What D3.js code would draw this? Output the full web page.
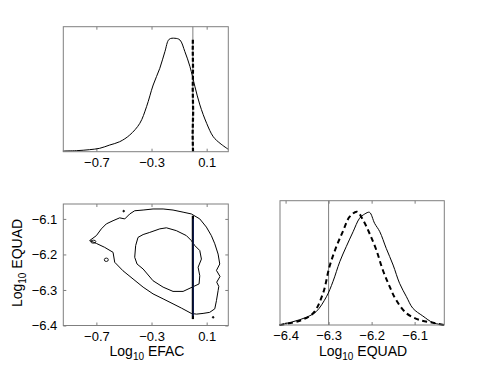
<!DOCTYPE html>
<html><head><meta charset="utf-8">
<script src="https://cdn.jsdelivr.net/npm/d3@7"></script>
<style>
body{margin:0;background:#fff}
svg{display:block}
text{font-family:"Liberation Sans",Arial,Helvetica,sans-serif;fill:#000}
</style>
</head><body>
<svg id="c" width="491" height="366"></svg>
<script>
// ---- Data ----
const efacTicks = [-0.7, -0.3, 0.1];
const equadTicks = [-6.4, -6.3, -6.2, -6.1];

// marginal of log10 EFAC (solid)
const efacX = [-0.943,-0.845,-0.749,-0.676,-0.603,-0.531,-0.458,-0.385,-0.336,-0.288,-0.24,-0.203,-0.172,-0.13,-0.094,-0.058,-0.021,0.015,0.051,0.1,0.148,0.197,0.257];
const efacDensity = [0.006,0.009,0.018,0.03,0.059,0.088,0.147,0.25,0.397,0.588,0.735,0.882,0.991,1.0,0.985,0.882,0.75,0.573,0.412,0.25,0.132,0.074,0.021];
// fixed-EFAC run (dashed spike at 0)
const efacFixedX = [0.001,-0.002,0.002,-0.001,0.001,-0.001,0.0];
const efacFixedDensity = [0,0.15,0.35,0.55,0.75,0.9,0.993];
const efacTrue = 0;

// marginal of log10 EQUAD
const equadX = [-6.414,-6.383,-6.352,-6.329,-6.305,-6.29,-6.274,-6.259,-6.243,-6.228,-6.216,-6.205,-6.193,-6.181,-6.166,-6.15,-6.135,-6.119,-6.104,-6.081,-6.057,-6.032];
const equadDensity = [0,0.029,0.068,0.118,0.251,0.384,0.562,0.695,0.828,0.947,0.985,1.0,0.902,0.828,0.68,0.532,0.37,0.251,0.148,0.08,0.02,0];
const equadFixedX = [-6.414,-6.367,-6.336,-6.313,-6.298,-6.282,-6.267,-6.251,-6.234,-6.22,-6.205,-6.189,-6.174,-6.158,-6.143,-6.119,-6.088,-6.057,-6.032];
const equadFixedDensity = [0,0.038,0.104,0.281,0.517,0.695,0.828,0.961,1.005,0.932,0.814,0.665,0.488,0.34,0.222,0.104,0.044,0.02,0];
const equadTrue = -6.3;

// 2D credible contours (EFAC, EQUAD)
const outerEfac = [-0.749,-0.700,-0.664,-0.628,-0.579,-0.531,-0.494,-0.458,-0.422,-0.361,-0.289,-0.216,-0.144,-0.071,-0.011,0.050,0.098,0.134,0.159,0.183,0.195,0.171,0.197,0.173,0.188,0.183,0.171,0.159,0.122,0.074,0.026,-0.011,-0.083,-0.144,-0.216,-0.289,-0.361,-0.434,-0.507,-0.567,-0.579,-0.640,-0.700,-0.749];
const outerEquad = [-6.161,-6.147,-6.128,-6.114,-6.105,-6.097,-6.100,-6.086,-6.077,-6.075,-6.072,-6.072,-6.075,-6.081,-6.086,-6.100,-6.123,-6.147,-6.170,-6.199,-6.227,-6.245,-6.262,-6.278,-6.290,-6.302,-6.330,-6.353,-6.363,-6.366,-6.368,-6.366,-6.351,-6.339,-6.325,-6.311,-6.292,-6.269,-6.246,-6.222,-6.194,-6.180,-6.169,-6.161];
const innerEfac = [-0.415,-0.398,-0.361,-0.313,-0.240,-0.192,-0.120,-0.047,-0.011,0.014,0.050,0.062,0.038,0.050,0.045,0.001,-0.071,-0.144,-0.216,-0.289,-0.361,-0.405,-0.422,-0.415];
const innerEquad = [-6.175,-6.152,-6.144,-6.138,-6.128,-6.125,-6.133,-6.147,-6.161,-6.175,-6.189,-6.213,-6.236,-6.260,-6.283,-6.291,-6.304,-6.304,-6.292,-6.274,-6.241,-6.227,-6.208,-6.175];
const islandEfac = [-0.722,-0.628,-0.502,0.147];
const islandEquad = [-6.164,-6.215,-6.078,-6.377];
const fixedEquadRange = [-6.382,-6.091];

// ---- Drawing ----
const svg = d3.select("#c");
const frameColor = "#7f7f7f";

const pTop = {x0:63.3,x1:228.3,y0:26.7,y1:151.7};
const pBL  = {x0:63.3,x1:228.3,y0:204,y1:325.5};
const pBR  = {x0:280,x1:444.3,y0:200.7,y1:325};

const xEfacTop = d3.scaleLinear().domain([-0.94,0.257]).range([pTop.x0,pTop.x1]);
const yTop = d3.scaleLinear().domain([0,1.102]).range([pTop.y1,pTop.y0]);
const xEfacBL = d3.scaleLinear().domain([-0.94,0.257]).range([pBL.x0,pBL.x1]);
const yEquadBL = d3.scaleLinear().domain([-6.4,-6.058]).range([pBL.y1,pBL.y0]);
const xEquadBR = d3.scaleLinear().domain([-6.413,-6.031]).range([pBR.x0,pBR.x1]);
const yBR = d3.scaleLinear().domain([0,1.103]).range([pBR.y1,pBR.y0]);

function frame(p){
  svg.append("rect").attr("x",p.x0).attr("y",p.y0).attr("width",p.x1-p.x0).attr("height",p.y1-p.y0)
    .attr("fill","none").attr("stroke",frameColor).attr("stroke-width",1);
}
function fmt(d){ return d3.format(".1f")(d).replace("-","\u2212").replace("\u2212","\u2212"); }
function xAxes(p, scale, ticks){
  const gb = svg.append("g").attr("transform",`translate(0,${p.y1})`)
    .call(d3.axisBottom(scale).tickValues(ticks).tickSizeInner(-3).tickSizeOuter(0).tickPadding(6).tickFormat(fmt));
  gb.select(".domain").remove();
  gb.selectAll("line").attr("stroke",frameColor);
  gb.selectAll("text").attr("font-size",13).attr("fill","#000").attr("font-family","Liberation Sans, Arial, sans-serif");
  const gt = svg.append("g").attr("transform",`translate(0,${p.y0})`)
    .call(d3.axisTop(scale).tickValues(ticks).tickSizeInner(-3).tickSizeOuter(0).tickFormat(""));
  gt.select(".domain").remove();
  gt.selectAll("line").attr("stroke",frameColor);
}
function yAxes(p, scale, ticks){
  const gl = svg.append("g").attr("transform",`translate(${p.x0},0)`)
    .call(d3.axisLeft(scale).tickValues(ticks).tickSizeInner(-3).tickSizeOuter(0).tickPadding(6).tickFormat(fmt));
  gl.select(".domain").remove();
  gl.selectAll("line").attr("stroke",frameColor);
  gl.selectAll("text").attr("font-size",13).attr("fill","#000").attr("font-family","Liberation Sans, Arial, sans-serif");
  const gr = svg.append("g").attr("transform",`translate(${p.x1},0)`)
    .call(d3.axisRight(scale).tickValues(ticks).tickSizeInner(-3).tickSizeOuter(0).tickFormat(""));
  gr.select(".domain").remove();
  gr.selectAll("line").attr("stroke",frameColor);
}

// Top panel
xAxes(pTop, xEfacTop, efacTicks);
svg.append("line").attr("x1",xEfacTop(efacTrue)).attr("x2",xEfacTop(efacTrue)).attr("y1",pTop.y0).attr("y2",pTop.y1)
  .attr("stroke",frameColor).attr("stroke-width",1);
const lineTop = d3.line().x(d=>xEfacTop(d[0])).y(d=>yTop(d[1])).curve(d3.curveCatmullRom);
svg.append("path").datum(d3.zip(efacX,efacDensity)).attr("d",lineTop).attr("fill","none").attr("stroke","#000").attr("stroke-width",1);
svg.append("path").datum(d3.zip(efacFixedX,efacFixedDensity)).attr("d",d3.line().x(d=>xEfacTop(d[0])).y(d=>yTop(d[1])))
  .attr("fill","none").attr("stroke","#000").attr("stroke-width",2.2).attr("stroke-dasharray","4,2");
frame(pTop);

// Bottom-left panel
xAxes(pBL, xEfacBL, efacTicks);
yAxes(pBL, yEquadBL, equadTicks);
const lineBL = d3.line().x(d=>xEfacBL(d[0])).y(d=>yEquadBL(d[1]));
svg.append("path").datum(d3.zip(outerEfac,outerEquad)).attr("d",lineBL).attr("fill","none").attr("stroke","#000").attr("stroke-width",1);
svg.append("path").datum(d3.zip(innerEfac,innerEquad)).attr("d",lineBL).attr("fill","none").attr("stroke","#000").attr("stroke-width",1);
svg.selectAll(".island").data(d3.zip(islandEfac,islandEquad)).join("ellipse").attr("class","island")
  .attr("cx",d=>xEfacBL(d[0])).attr("cy",d=>yEquadBL(d[1]))
  .attr("rx",(d,i)=>i===1?2:(i===0?2.5:0.8)).attr("ry",(d,i)=>i===1?1.7:(i===0?1.5:0.8))
  .attr("fill",(d,i)=>i>=2?"#000":"none").attr("stroke","#000").attr("stroke-width",0.9);
svg.append("line").attr("x1",xEfacBL(efacTrue)).attr("x2",xEfacBL(efacTrue))
  .attr("y1",yEquadBL(fixedEquadRange[0])).attr("y2",yEquadBL(fixedEquadRange[1]))
  .attr("stroke","#000").attr("stroke-width",2.2);
svg.append("line").attr("x1",xEfacBL(efacTrue)+0.3).attr("x2",xEfacBL(efacTrue)+0.3)
  .attr("y1",yEquadBL(fixedEquadRange[0])-3).attr("y2",yEquadBL(fixedEquadRange[1])+3)
  .attr("stroke","#1a2f8a").attr("stroke-width",0.8);
frame(pBL);

// Bottom-right panel
xAxes(pBR, xEquadBR, equadTicks);
svg.append("line").attr("x1",xEquadBR(equadTrue)).attr("x2",xEquadBR(equadTrue)).attr("y1",pBR.y0).attr("y2",pBR.y1)
  .attr("stroke",frameColor).attr("stroke-width",1);
const lineBR = d3.line().x(d=>xEquadBR(d[0])).y(d=>yBR(d[1])).curve(d3.curveCatmullRom);
svg.append("path").datum(d3.zip(equadX,equadDensity)).attr("d",lineBR).attr("fill","none").attr("stroke","#000").attr("stroke-width",1);
svg.append("path").datum(d3.zip(equadFixedX,equadFixedDensity)).attr("d",lineBR).attr("fill","none").attr("stroke","#000").attr("stroke-width",2).attr("stroke-dasharray","5,3.5");
frame(pBR);

// Axis titles
function logLabel(g, name){
  const t = g.append("text").attr("font-size",14).attr("text-anchor","middle");
  t.append("tspan").text("Log");
  t.append("tspan").attr("font-size",10).attr("dy",4).text("10");
  t.append("tspan").attr("dy",-4).text("\u00a0"+name);
  return t;
}
logLabel(svg.append("g").attr("transform","translate(147,356)"),"EFAC");
logLabel(svg.append("g").attr("transform","translate(363,356)"),"EQUAD");
logLabel(svg.append("g").attr("transform","translate(22,263) rotate(-90)"),"EQUAD");
</script>
</body></html>
